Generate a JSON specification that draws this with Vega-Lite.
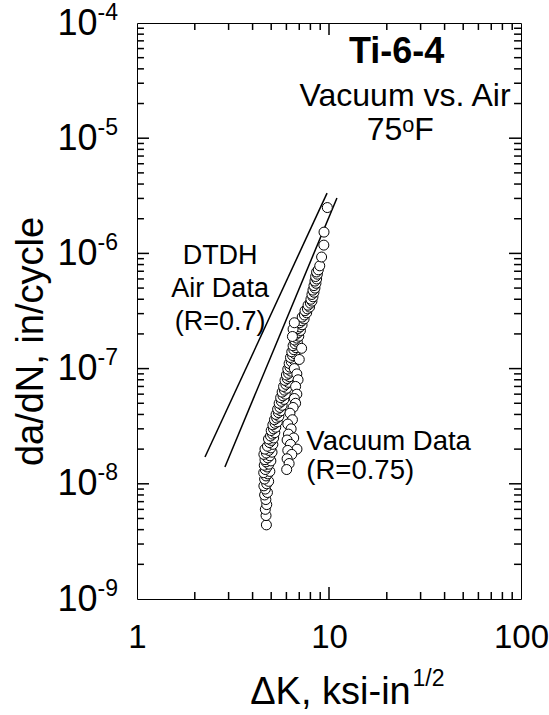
{
  "$schema": "https://vega.github.io/schema/vega-lite/v6.json",
  "width": 384,
  "height": 576,
  "autosize": "none",
  "padding": {"left": 137, "top": 23, "right": 28, "bottom": 116},
  "background": "white",
  "config": {
    "font": "Liberation Sans",
    "view": {"stroke": "black", "strokeWidth": 1},
    "axis": {
      "grid": false,
      "domain": false,
      "ticks": false,
      "tickSize": 0,
      "labelColor": "black",
      "titleColor": "black",
      "labelFont": "Liberation Sans",
      "titleFont": "Liberation Sans",
      "titleFontWeight": "normal",
      "labelFlush": false,
      "labelOverlap": false,
      "labelBound": false
    }
  },
  "datasets": {
    "vac": [
      {"dK": 4.72, "dadN": 4.4e-9}, {"dK": 4.70, "dadN": 5.3e-9}, {"dK": 4.66, "dadN": 6.0e-9}, {"dK": 4.74, "dadN": 6.6e-9},
      {"dK": 4.69, "dadN": 7.3e-9}, {"dK": 4.62, "dadN": 8.0e-9}, {"dK": 4.78, "dadN": 8.4e-9}, {"dK": 4.66, "dadN": 9.0e-9},
      {"dK": 4.58, "dadN": 9.6e-9}, {"dK": 4.74, "dadN": 1.0e-8}, {"dK": 4.85, "dadN": 1.05e-8}, {"dK": 4.62, "dadN": 1.1e-8},
      {"dK": 4.70, "dadN": 1.17e-8}, {"dK": 4.80, "dadN": 1.22e-8}, {"dK": 4.57, "dadN": 1.25e-8}, {"dK": 4.92, "dadN": 1.28e-8},
      {"dK": 4.66, "dadN": 1.33e-8}, {"dK": 4.76, "dadN": 1.40e-8}, {"dK": 4.60, "dadN": 1.45e-8}, {"dK": 4.86, "dadN": 1.48e-8},
      {"dK": 4.70, "dadN": 1.55e-8}, {"dK": 4.98, "dadN": 1.58e-8}, {"dK": 4.64, "dadN": 1.62e-8}, {"dK": 4.80, "dadN": 1.68e-8},
      {"dK": 4.92, "dadN": 1.75e-8}, {"dK": 4.58, "dadN": 1.8e-8}, {"dK": 4.72, "dadN": 1.85e-8}, {"dK": 5.05, "dadN": 1.88e-8},
      {"dK": 4.86, "dadN": 1.95e-8}, {"dK": 4.64, "dadN": 2.0e-8}, {"dK": 4.98, "dadN": 2.05e-8}, {"dK": 4.78, "dadN": 2.12e-8},
      {"dK": 5.10, "dadN": 2.2e-8}, {"dK": 4.90, "dadN": 2.28e-8}, {"dK": 5.02, "dadN": 2.38e-8}, {"dK": 4.84, "dadN": 2.45e-8},
      {"dK": 5.15, "dadN": 2.5e-8}, {"dK": 4.96, "dadN": 2.6e-8}, {"dK": 5.08, "dadN": 2.7e-8}, {"dK": 5.22, "dadN": 2.78e-8},
      {"dK": 5.00, "dadN": 2.9e-8}, {"dK": 5.14, "dadN": 3.0e-8}, {"dK": 5.28, "dadN": 3.1e-8}, {"dK": 5.10, "dadN": 3.25e-8},
      {"dK": 5.24, "dadN": 3.35e-8}, {"dK": 5.38, "dadN": 3.45e-8}, {"dK": 5.20, "dadN": 3.6e-8}, {"dK": 5.34, "dadN": 3.72e-8},
      {"dK": 5.48, "dadN": 3.85e-8}, {"dK": 5.30, "dadN": 4.0e-8}, {"dK": 5.45, "dadN": 4.15e-8}, {"dK": 5.60, "dadN": 4.3e-8},
      {"dK": 5.40, "dadN": 4.45e-8}, {"dK": 5.55, "dadN": 4.6e-8}, {"dK": 5.70, "dadN": 4.8e-8}, {"dK": 5.50, "dadN": 5.0e-8},
      {"dK": 5.65, "dadN": 5.2e-8}, {"dK": 5.82, "dadN": 5.4e-8}, {"dK": 5.60, "dadN": 5.6e-8}, {"dK": 5.76, "dadN": 5.8e-8},
      {"dK": 5.92, "dadN": 6.0e-8}, {"dK": 5.70, "dadN": 6.25e-8}, {"dK": 5.86, "dadN": 6.5e-8}, {"dK": 6.02, "dadN": 6.75e-8},
      {"dK": 5.80, "dadN": 7.0e-8}, {"dK": 5.96, "dadN": 7.3e-8}, {"dK": 6.12, "dadN": 7.6e-8}, {"dK": 5.90, "dadN": 7.9e-8},
      {"dK": 6.06, "dadN": 8.2e-8}, {"dK": 6.22, "dadN": 8.5e-8}, {"dK": 6.00, "dadN": 8.8e-8}, {"dK": 6.16, "dadN": 9.1e-8},
      {"dK": 6.32, "dadN": 9.5e-8}, {"dK": 6.10, "dadN": 9.9e-8}, {"dK": 6.26, "dadN": 1.03e-7}, {"dK": 6.42, "dadN": 1.07e-7},
      {"dK": 6.20, "dadN": 1.11e-7}, {"dK": 6.36, "dadN": 1.15e-7}, {"dK": 6.52, "dadN": 1.2e-7}, {"dK": 6.30, "dadN": 1.25e-7},
      {"dK": 6.46, "dadN": 1.3e-7}, {"dK": 6.62, "dadN": 1.35e-7}, {"dK": 6.40, "dadN": 1.4e-7}, {"dK": 6.56, "dadN": 1.46e-7},
      {"dK": 6.72, "dadN": 1.52e-7}, {"dK": 6.50, "dadN": 1.58e-7}, {"dK": 6.66, "dadN": 1.64e-7}, {"dK": 6.84, "dadN": 1.7e-7},
      {"dK": 6.62, "dadN": 1.77e-7}, {"dK": 6.78, "dadN": 1.84e-7}, {"dK": 6.96, "dadN": 1.91e-7}, {"dK": 6.74, "dadN": 1.98e-7},
      {"dK": 6.92, "dadN": 2.06e-7}, {"dK": 7.10, "dadN": 2.14e-7}, {"dK": 6.88, "dadN": 2.22e-7}, {"dK": 7.06, "dadN": 2.3e-7},
      {"dK": 7.24, "dadN": 2.4e-7}, {"dK": 7.04, "dadN": 2.5e-7}, {"dK": 7.22, "dadN": 2.6e-7}, {"dK": 7.42, "dadN": 2.7e-7},
      {"dK": 7.25, "dadN": 2.8e-7}, {"dK": 7.45, "dadN": 2.92e-7}, {"dK": 7.65, "dadN": 3.05e-7}, {"dK": 7.50, "dadN": 3.18e-7},
      {"dK": 7.72, "dadN": 3.3e-7}, {"dK": 7.92, "dadN": 3.42e-7}, {"dK": 7.78, "dadN": 3.55e-7}, {"dK": 8.00, "dadN": 3.7e-7},
      {"dK": 8.15, "dadN": 3.85e-7}, {"dK": 8.05, "dadN": 4.0e-7}, {"dK": 8.25, "dadN": 4.2e-7}, {"dK": 8.15, "dadN": 4.4e-7},
      {"dK": 8.35, "dadN": 4.6e-7}, {"dK": 8.25, "dadN": 4.8e-7}, {"dK": 8.45, "dadN": 5.0e-7}, {"dK": 8.35, "dadN": 5.25e-7},
      {"dK": 8.55, "dadN": 5.5e-7}, {"dK": 8.45, "dadN": 5.75e-7}, {"dK": 8.62, "dadN": 6.0e-7}, {"dK": 8.52, "dadN": 6.3e-7},
      {"dK": 8.70, "dadN": 6.6e-7}, {"dK": 8.62, "dadN": 6.9e-7}, {"dK": 8.80, "dadN": 7.2e-7}, {"dK": 8.95, "dadN": 7.8e-7},
      {"dK": 9.15, "dadN": 9.3e-7}, {"dK": 9.40, "dadN": 1.18e-6}, {"dK": 9.42, "dadN": 1.53e-6}, {"dK": 9.80, "dadN": 2.5e-6},
      {"dK": 6.50, "dadN": 2.2e-7}, {"dK": 6.60, "dadN": 2.5e-7}, {"dK": 6.45, "dadN": 1.9e-7},
      {"dK": 6.60, "dadN": 1.0e-7}, {"dK": 6.80, "dadN": 9.0e-8}, {"dK": 6.90, "dadN": 8.0e-8}, {"dK": 6.70, "dadN": 7.0e-8},
      {"dK": 6.80, "dadN": 6.0e-8}, {"dK": 6.60, "dadN": 5.5e-8}, {"dK": 6.70, "dadN": 5.0e-8}, {"dK": 6.50, "dadN": 4.6e-8},
      {"dK": 7.00, "dadN": 1.2e-7}, {"dK": 7.20, "dadN": 1.5e-7},
      {"dK": 6.26, "dadN": 4.1e-8}, {"dK": 6.45, "dadN": 3.6e-8}, {"dK": 6.10, "dadN": 3.3e-8}, {"dK": 6.35, "dadN": 3.0e-8},
      {"dK": 6.15, "dadN": 2.7e-8}, {"dK": 6.55, "dadN": 2.5e-8}, {"dK": 6.05, "dadN": 2.4e-8}, {"dK": 6.30, "dadN": 2.2e-8},
      {"dK": 6.81, "dadN": 2.0e-8}, {"dK": 6.10, "dadN": 1.95e-8}, {"dK": 6.40, "dadN": 1.8e-8}, {"dK": 6.05, "dadN": 1.65e-8},
      {"dK": 6.20, "dadN": 1.5e-8}, {"dK": 6.02, "dadN": 1.33e-8}
    ],
    "air": [
      {"line": "a", "dK": 2.26, "dadN": 1.71e-8}, {"line": "a", "dK": 9.77, "dadN": 3.34e-6},
      {"line": "b", "dK": 2.87, "dadN": 1.40e-8}, {"line": "b", "dK": 11.0, "dadN": 3.03e-6}
    ],
    "xMajor": [{"v": 10}],
    "xMinor": [{"v": 2}, {"v": 3}, {"v": 4}, {"v": 5}, {"v": 6}, {"v": 7}, {"v": 8}, {"v": 9}, {"v": 20}, {"v": 30}, {"v": 40}, {"v": 50}, {"v": 60}, {"v": 70}, {"v": 80}, {"v": 90}],
    "yMajor": [{"v": 1e-8}, {"v": 1e-7}, {"v": 1e-6}, {"v": 1e-5}],
    "yMinor": [
      {"v": 2e-9}, {"v": 3e-9}, {"v": 4e-9}, {"v": 5e-9}, {"v": 6e-9}, {"v": 7e-9}, {"v": 8e-9}, {"v": 9e-9},
      {"v": 2e-8}, {"v": 3e-8}, {"v": 4e-8}, {"v": 5e-8}, {"v": 6e-8}, {"v": 7e-8}, {"v": 8e-8}, {"v": 9e-8},
      {"v": 2e-7}, {"v": 3e-7}, {"v": 4e-7}, {"v": 5e-7}, {"v": 6e-7}, {"v": 7e-7}, {"v": 8e-7}, {"v": 9e-7},
      {"v": 2e-6}, {"v": 3e-6}, {"v": 4e-6}, {"v": 5e-6}, {"v": 6e-6}, {"v": 7e-6}, {"v": 8e-6}, {"v": 9e-6},
      {"v": 2e-5}, {"v": 3e-5}, {"v": 4e-5}, {"v": 5e-5}, {"v": 6e-5}, {"v": 7e-5}, {"v": 8e-5}, {"v": 9e-5}
    ],
    "titleText": [
      {"t": "Ti-6-4", "dK": 22.5, "dadN": 5.6e-5}
    ],
    "centerText": [
      {"t": "Vacuum vs. Air", "dK": 24.9, "dadN": 2.32e-5},
      {"t": "75ᵒF", "dK": 23.5, "dadN": 1.18e-5}
    ],
    "airText": [
      {"t": "DTDH", "dK": 2.71, "dadN": 9.5e-7},
      {"t": "Air Data", "dK": 2.71, "dadN": 4.9e-7},
      {"t": "(R=0.7)", "dK": 2.71, "dadN": 2.54e-7}
    ],
    "leftText": [
      {"t": "Vacuum Data", "dK": 7.62, "dadN": 2.3e-8},
      {"t": "(R=0.75)", "dK": 7.62, "dadN": 1.3e-8}
    ]
  },
  "layer": [
    {
      "data": {"name": "xMajor"},
      "mark": {"type": "rule", "color": "black", "strokeWidth": 1.5, "opacity": 1},
      "encoding": {
        "x": {"field": "v", "type": "quantitative", "scale": {"type": "log", "domain": [1, 100], "nice": false}, "axis": null},
        "y": {"datum": 1e-9, "type": "quantitative", "scale": {"type": "log", "domain": [1e-9, 1e-4], "nice": false}, "axis": null},
        "y2": {"datum": 1.27e-9}
      }
    },
    {
      "data": {"name": "xMajor"},
      "mark": {"type": "rule", "color": "black", "strokeWidth": 1.5, "opacity": 1},
      "encoding": {
        "x": {"field": "v", "type": "quantitative", "scale": {"type": "log", "domain": [1, 100], "nice": false}, "axis": null},
        "y": {"datum": 1e-4, "type": "quantitative", "scale": {"type": "log", "domain": [1e-9, 1e-4], "nice": false}, "axis": null},
        "y2": {"datum": 7.87e-5}
      }
    },
    {
      "data": {"name": "xMinor"},
      "mark": {"type": "rule", "color": "black", "strokeWidth": 1.5, "opacity": 1},
      "encoding": {
        "x": {"field": "v", "type": "quantitative", "scale": {"type": "log", "domain": [1, 100], "nice": false}, "axis": null},
        "y": {"datum": 1e-9, "type": "quantitative", "scale": {"type": "log", "domain": [1e-9, 1e-4], "nice": false}, "axis": null},
        "y2": {"datum": 1.15e-9}
      }
    },
    {
      "data": {"name": "xMinor"},
      "mark": {"type": "rule", "color": "black", "strokeWidth": 1.5, "opacity": 1},
      "encoding": {
        "x": {"field": "v", "type": "quantitative", "scale": {"type": "log", "domain": [1, 100], "nice": false}, "axis": null},
        "y": {"datum": 1e-4, "type": "quantitative", "scale": {"type": "log", "domain": [1e-9, 1e-4], "nice": false}, "axis": null},
        "y2": {"datum": 8.7e-5}
      }
    },
    {
      "data": {"name": "yMajor"},
      "mark": {"type": "rule", "color": "black", "strokeWidth": 1.5, "opacity": 1},
      "encoding": {
        "y": {"field": "v", "type": "quantitative", "scale": {"type": "log", "domain": [1e-9, 1e-4], "nice": false}, "axis": null},
        "x": {"datum": 1, "type": "quantitative", "scale": {"type": "log", "domain": [1, 100], "nice": false}, "axis": null},
        "x2": {"datum": 1.155}
      }
    },
    {
      "data": {"name": "yMajor"},
      "mark": {"type": "rule", "color": "black", "strokeWidth": 1.5, "opacity": 1},
      "encoding": {
        "y": {"field": "v", "type": "quantitative", "scale": {"type": "log", "domain": [1e-9, 1e-4], "nice": false}, "axis": null},
        "x": {"datum": 100, "type": "quantitative", "scale": {"type": "log", "domain": [1, 100], "nice": false}, "axis": null},
        "x2": {"datum": 86.6}
      }
    },
    {
      "data": {"name": "yMinor"},
      "mark": {"type": "rule", "color": "black", "strokeWidth": 1.5, "opacity": 1},
      "encoding": {
        "y": {"field": "v", "type": "quantitative", "scale": {"type": "log", "domain": [1e-9, 1e-4], "nice": false}, "axis": null},
        "x": {"datum": 1, "type": "quantitative", "scale": {"type": "log", "domain": [1, 100], "nice": false}, "axis": null},
        "x2": {"datum": 1.087}
      }
    },
    {
      "data": {"name": "yMinor"},
      "mark": {"type": "rule", "color": "black", "strokeWidth": 1.5, "opacity": 1},
      "encoding": {
        "y": {"field": "v", "type": "quantitative", "scale": {"type": "log", "domain": [1e-9, 1e-4], "nice": false}, "axis": null},
        "x": {"datum": 100, "type": "quantitative", "scale": {"type": "log", "domain": [1, 100], "nice": false}, "axis": null},
        "x2": {"datum": 92.0}
      }
    },
    {
      "data": {"name": "air"},
      "mark": {"type": "line", "color": "black", "strokeWidth": 1.5},
      "encoding": {
        "x": {
          "field": "dK", "type": "quantitative",
          "scale": {"type": "log", "domain": [1, 100], "nice": false},
          "axis": {"orient": "bottom", "values": [10], "labels": false, "title": "1/2", "titleFontSize": 23, "titleX": 275, "titleY": 79, "titleAlign": "left", "titleBaseline": "middle"}
        },
        "y": {
          "field": "dadN", "type": "quantitative",
          "scale": {"type": "log", "domain": [1e-9, 1e-4], "nice": false},
          "axis": {"orient": "left", "values": [1e-9, 1e-8, 1e-7, 1e-6, 1e-5, 1e-4], "labelExpr": "datum.value == 1e-4 ? '-4' : datum.value == 1e-5 ? '-5' : datum.value == 1e-6 ? '-6' : datum.value == 1e-7 ? '-7' : datum.value == 1e-8 ? '-8' : '-9'", "labelFontSize": 23, "labelAlign": "left", "labelBaseline": "middle", "labelPadding": 40, "labelOffset": -11, "title": null}
        },
        "detail": {"field": "line", "type": "nominal"}
      }
    },
    {
      "data": {"name": "vac"},
      "mark": {"type": "point", "shape": "circle", "size": 100, "filled": false, "fill": "white", "fillOpacity": 1, "stroke": "black", "strokeWidth": 1, "opacity": 1},
      "encoding": {
        "x": {
          "field": "dK", "type": "quantitative",
          "scale": {"type": "log", "domain": [1, 100], "nice": false},
          "axis": {
            "orient": "bottom",
            "values": [1, 10, 100],
            "labelExpr": "datum.value == 1 ? '1' : datum.value == 10 ? '10' : '100'",
            "labelFontSize": 33,
            "labelPadding": 22,
            "title": "ΔK, ksi-in",
            "titleFontSize": 38,
            "titleX": 193,
            "titleY": 93,
            "titleBaseline": "middle",
            "titleAlign": "center"
          }
        },
        "y": {
          "field": "dadN", "type": "quantitative",
          "scale": {"type": "log", "domain": [1e-9, 1e-4], "nice": false},
          "axis": {
            "orient": "left",
            "values": [1e-9, 1e-8, 1e-7, 1e-6, 1e-5, 1e-4],
            "labelExpr": "'10'",
            "labelFontSize": 36,
            "labelPadding": 40,
            "labelBaseline": "middle",
            "title": "da/dN, in/cycle",
            "titleFontSize": 38,
            "titleX": -106,
            "titleY": 318,
            "titleAngle": 270,
            "titleBaseline": "middle",
            "titleAlign": "center"
          }
        }
      }
    },
    {
      "data": {"name": "titleText"},
      "mark": {"type": "text", "fontSize": 36, "fontWeight": "bold", "align": "center", "baseline": "middle", "color": "black"},
      "encoding": {
        "x": {"field": "dK", "type": "quantitative", "scale": {"type": "log", "domain": [1, 100], "nice": false}, "axis": null},
        "y": {"field": "dadN", "type": "quantitative", "scale": {"type": "log", "domain": [1e-9, 1e-4], "nice": false}, "axis": null},
        "text": {"field": "t", "type": "nominal"}
      }
    },
    {
      "data": {"name": "centerText"},
      "mark": {"type": "text", "fontSize": 32, "align": "center", "baseline": "middle", "color": "black"},
      "encoding": {
        "x": {"field": "dK", "type": "quantitative", "scale": {"type": "log", "domain": [1, 100], "nice": false}, "axis": null},
        "y": {"field": "dadN", "type": "quantitative", "scale": {"type": "log", "domain": [1e-9, 1e-4], "nice": false}, "axis": null},
        "text": {"field": "t", "type": "nominal"}
      }
    },
    {
      "data": {"name": "airText"},
      "mark": {"type": "text", "fontSize": 27, "align": "center", "baseline": "middle", "color": "black"},
      "encoding": {
        "x": {"field": "dK", "type": "quantitative", "scale": {"type": "log", "domain": [1, 100], "nice": false}, "axis": null},
        "y": {"field": "dadN", "type": "quantitative", "scale": {"type": "log", "domain": [1e-9, 1e-4], "nice": false}, "axis": null},
        "text": {"field": "t", "type": "nominal"}
      }
    },
    {
      "data": {"name": "leftText"},
      "mark": {"type": "text", "fontSize": 27.5, "align": "left", "baseline": "middle", "color": "black"},
      "encoding": {
        "x": {"field": "dK", "type": "quantitative", "scale": {"type": "log", "domain": [1, 100], "nice": false}, "axis": null},
        "y": {"field": "dadN", "type": "quantitative", "scale": {"type": "log", "domain": [1e-9, 1e-4], "nice": false}, "axis": null},
        "text": {"field": "t", "type": "nominal"}
      }
    }
  ],
  "resolve": {"axis": {"x": "independent", "y": "independent"}}
}
